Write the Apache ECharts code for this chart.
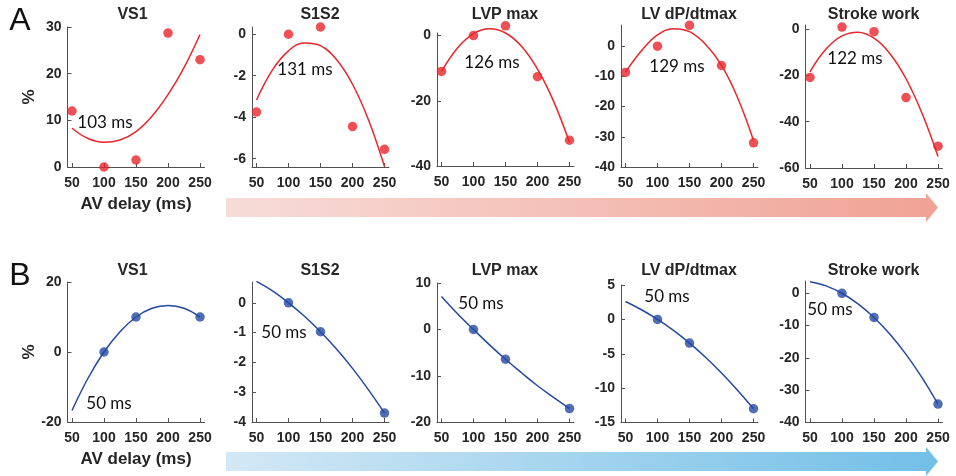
<!DOCTYPE html>
<html>
<head>
<meta charset="utf-8">
<script src="https://cdn.jsdelivr.net/npm/echarts@6/dist/echarts.min.js"></script>
<style>
  html, body { margin: 0; padding: 0; background: #fff; }
  #chart { width: 956px; height: 476px; }
</style>
</head>
<body>
<div id="chart"></div>
<script>
// AV delays (ms)
const avDelay = [50, 100, 150, 200, 250]
const avDelayB = [100, 150, 250]
const fitDelay = [50, 75, 100, 125, 150, 175, 200, 225, 250]
const xTicks = [50, 100, 150, 200, 250]

const vs1A = [12, 0, 1.5, 28.7, 23]
const vs1AFit = [8.3, 6.1, 5.3, 5.8, 7.6, 10.9, 15.5, 21.3, 28.4]
const s1s2A = [-3.75, 0, 0.35, -4.45, -5.55]
const s1s2AFit = [-3.17, -1.72, -0.8, -0.42, -0.55, -1.22, -2.41, -4.13, -6.38]
const lvpA = [-11, 0, 3, -12.6, -32.1]
const lvpAFit = [-11, -3.8, 0.6, 2.1, 0.8, -3.3, -10.3, -20.1, -32.8]
const dpA = [-8.7, 0, 6.9, -6.4, -32]
const dpAFit = [-8.6, -1.5, 3.7, 5.8, 4.8, 0.6, -6.4, -17, -31.2]
const swA = [-20.9, 0.8, -1.2, -29.6, -50.6]
const swAFit = [-18.5, -8.7, -3, -1.4, -4, -10.7, -21.5, -36.4, -55]

// row B
const vs1B = [0, 10, 10]
const vs1BFit = [-16.7, -7.5, 0, 5.8, 10, 12.5, 13.3, 12.5, 10]
const s1s2B = [0, -0.97, -3.7]
const s1s2BFit = [0.72, 0.4, 0, -0.45, -0.97, -1.55, -2.2, -2.92, -3.7]
const lvpB = [0, -6.4, -17]
const lvpBFit = [7.1, 3.4, 0, -3.3, -6.4, -9.3, -12.1, -14.6, -17]
const dpB = [0, -3.45, -13]
const dpBFit = [2.6, 1.4, 0, -1.6, -3.45, -5.5, -7.8, -10.3, -13]
const swB = [0, -7.5, -34.3]
const swBFit = [3.6, 2.3, 0, -3.3, -7.5, -12.7, -18.9, -26.1, -34.3]

const titles = ['VS1', 'S1S2', 'LVP max', 'LV dP/dtmax', 'Stroke work']
const optimaA = ['103 ms', '131 ms', '126 ms', '129 ms', '122 ms']
const optimaB = ['50 ms', '50 ms', '50 ms', '50 ms', '50 ms']

const yTicksA = [[0, 10, 20, 30], [-6, -4, -2, 0], [-40, -20, 0], [-40, -30, -20, -10, 0], [-60, -40, -20, 0]]
const yTicksB = [[-20, 0, 20], [-4, -3, -2, -1, 0], [-20, -10, 0, 10], [-15, -10, -5, 0, 5], [-40, -30, -20, -10, 0]]

const RED = '#e8262b'
const BLUE = '#2448a3'
const AXIS = '#505050'
const TXT = '#262626'

// layout: grid box + y extent + note position, per panel
const panels = [
  { pts: vs1A, px: avDelay, fit: vs1AFit, yt: yTicksA[0], min: 0, max: 30, box: [67.5, 27, 137, 140], note: [105, 123], c: RED },
  { pts: s1s2A, px: avDelay, fit: s1s2AFit, yt: yTicksA[1], min: -6.4, max: 0.35, box: [252, 27, 137, 140], note: [305, 70], c: RED },
  { pts: lvpA, px: avDelay, fit: lvpAFit, yt: yTicksA[2], min: -40, max: 0.8, box: [437, 33, 137, 133], note: [492, 63], c: RED },
  { pts: dpA, px: avDelay, fit: dpAFit, yt: yTicksA[3], min: -40, max: 7, box: [621, 25, 137, 142], note: [677, 67], c: RED },
  { pts: swA, px: avDelay, fit: swAFit, yt: yTicksA[4], min: -60, max: 1.7, box: [805.5, 25, 137, 143], note: [855, 59], c: RED },
  { pts: vs1B, px: avDelayB, fit: vs1BFit, yt: yTicksB[0], min: -20, max: 20, box: [67.5, 282, 137, 140], note: [109, 404], c: BLUE },
  { pts: s1s2B, px: avDelayB, fit: s1s2BFit, yt: yTicksB[1], min: -4, max: 0.7, box: [252, 282, 137, 140], note: [284, 333], c: BLUE },
  { pts: lvpB, px: avDelayB, fit: lvpBFit, yt: yTicksB[2], min: -20, max: 10, box: [437, 283, 137, 139.5], note: [481, 304], c: BLUE },
  { pts: dpB, px: avDelayB, fit: dpBFit, yt: yTicksB[3], min: -15, max: 5, box: [621, 285, 137, 137.5], note: [667, 297], c: BLUE },
  { pts: swB, px: avDelayB, fit: swBFit, yt: yTicksB[4], min: -40, max: 3.8, box: [805.5, 281, 137, 141.5], note: [830, 310], c: BLUE }
]

const chart = echarts.init(document.getElementById('chart'))

const grid = [], xAxis = [], yAxis = [], series = [], graphic = []

panels.forEach((p, i) => {
  const first = i % 5 === 0
  grid.push({ left: p.box[0], top: p.box[1], width: p.box[2], height: p.box[3] })
  xAxis.push({
    gridIndex: i, type: 'value', min: 43, max: 257,
    splitLine: { show: false },
    axisLine: { onZero: false, lineStyle: { color: AXIS, width: 1 } },
    axisTick: { inside: true, length: 4, customValues: xTicks, lineStyle: { color: AXIS } },
    axisLabel: { customValues: xTicks, margin: 9, color: TXT, fontSize: 14, fontWeight: 'bold', fontFamily: 'Liberation Sans' },
    name: first ? 'AV delay (ms)' : '', nameLocation: 'middle', nameGap: 29,
    nameTextStyle: { color: TXT, fontSize: 17, fontWeight: 'bold', fontFamily: 'Liberation Sans' }
  })
  yAxis.push({
    gridIndex: i, type: 'value', min: p.min, max: p.max,
    splitLine: { show: false },
    axisLine: { show: true, onZero: false, lineStyle: { color: AXIS, width: 1 } },
    axisTick: { show: true, inside: true, length: 4, customValues: p.yt, lineStyle: { color: AXIS } },
    axisLabel: { customValues: p.yt, margin: 6, color: TXT, fontSize: 14, fontWeight: 'bold', fontFamily: 'Liberation Sans' },
    name: first ? '%' : '', nameLocation: 'middle', nameGap: 30, nameRotate: 90,
    nameTextStyle: { color: TXT, fontSize: 17, fontWeight: 'bold', fontFamily: 'Liberation Sans' }
  })
  series.push({
    type: 'line', xAxisIndex: i, yAxisIndex: i, smooth: 0.4, showSymbol: false,
    lineStyle: { color: p.c, width: 1.5 }, clip: false, silent: true,
    data: fitDelay.map((x, k) => [x, p.fit[k]])
  })
  series.push({
    type: 'scatter', xAxisIndex: i, yAxisIndex: i, symbolSize: 9.5, clip: false, silent: true,
    itemStyle: { color: p.c },
    data: p.px.map((x, k) => [x, p.pts[k]])
  })
  graphic.push({
    type: 'text', x: p.note[0], y: p.note[1],
    style: { text: (i < 5 ? optimaA : optimaB)[i % 5], fill: '#111', font: '17px Lato', align: 'center', verticalAlign: 'middle' }
  })
  graphic.push({
    type: 'text', x: p.box[0] + 68 + (i % 5 === 0 ? -3 : 0), y: i < 5 ? 15 : 271,
    style: { text: titles[i % 5], fill: TXT, font: 'bold 16px Liberation Sans', align: 'center', verticalAlign: 'middle' }
  })
})

// panel letters
graphic.push({ type: 'text', x: 20, y: 21, style: { text: 'A', fill: '#111', font: '32px Liberation Sans', align: 'center', verticalAlign: 'middle' } })
graphic.push({ type: 'text', x: 20, y: 276, style: { text: 'B', fill: '#111', font: '32px Liberation Sans', align: 'center', verticalAlign: 'middle' } })

// gradient arrows under each row
function arrow(yc, c0, c1) {
  return {
    type: 'polygon',
    shape: { points: [[226, yc - 9.5], [926, yc - 9.5], [926, yc - 14.5], [938, yc], [926, yc + 14.5], [926, yc + 9.5], [226, yc + 9.5]] },
    style: { fill: new echarts.graphic.LinearGradient(0, 0, 1, 0, [{ offset: 0, color: c0 }, { offset: 1, color: c1 }]) }
  }
}
graphic.push(arrow(207.5, '#f7dcd8', '#f0a294'))
graphic.push(arrow(461.5, '#d3e8f5', '#72bfe7'))

chart.setOption({
  animation: false,
  grid: grid,
  xAxis: xAxis,
  yAxis: yAxis,
  series: series,
  graphic: graphic
})
</script>
</body>
</html>
